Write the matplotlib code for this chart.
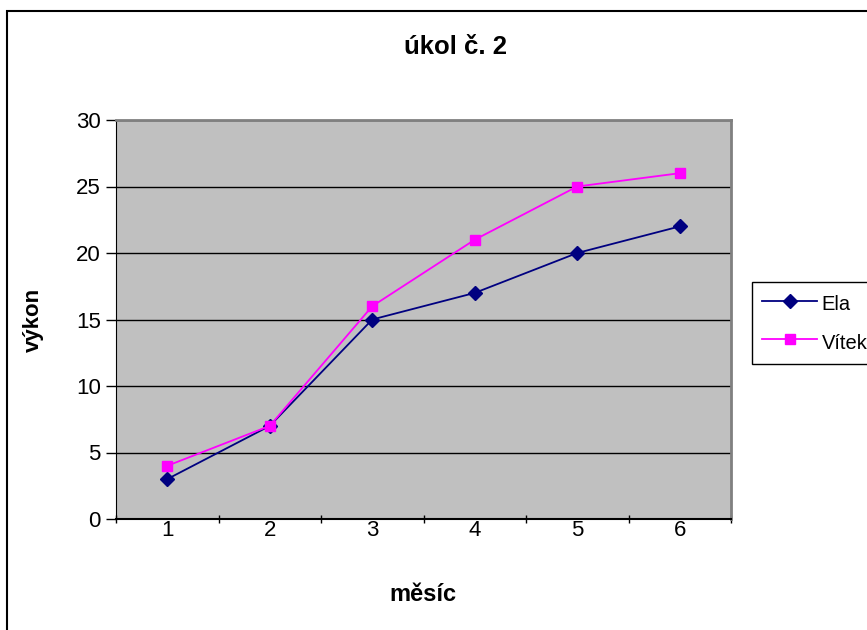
import matplotlib.pyplot as plt
from matplotlib.patches import Rectangle

plt.rcParams['font.family'] = ['Liberation Sans', 'DejaVu Sans']

months = [1, 2, 3, 4, 5, 6]
ela = [3, 7, 15, 17, 20, 22]
vitek = [4, 7, 16, 21, 25, 26]
yticks = [0, 5, 10, 15, 20, 25, 30]

fig = plt.figure(figsize=(8.67, 6.3), dpi=100)
ax = fig.add_axes([116 / 867, 1 - 519 / 630, 615 / 867, 399 / 630])
ax.set_facecolor('#c0c0c0')

# chart area border (runs off the right and bottom edge)
fig.add_artist(Rectangle((7 / 867, -0.05), 1.0, 1 - 11 / 630 + 0.05, transform=fig.transFigure,
                         fill=False, edgecolor='black', linewidth=1.5))

ax.plot(months, ela, color='#000080', marker='D', markersize=7, linewidth=1.3, label='Ela')
ax.plot(months, vitek, color='#ff00ff', marker='s', markersize=7, linewidth=1.3, label='Vítek')

ax.set_xlim(0.5, 6.5)
ax.set_ylim(0, 30)
ax.set_yticks(yticks)
ax.set_xticks(months)
ax.set_xticks([0.5 + i for i in range(7)], minor=True)
ax.tick_params(axis='x', which='major', length=0, pad=1, labelsize=16)
ax.tick_params(axis='x', which='minor', length=6, direction='inout', width=1)
ax.tick_params(axis='y', length=7, direction='out', width=1, labelsize=16, pad=4)
ax.grid(axis='y', color='black', linewidth=1)
ax.set_axisbelow(True)

for side in ['top', 'right']:
    ax.spines[side].set_color('#808080')
    ax.spines[side].set_linewidth(2)
ax.spines['left'].set_color('black')
ax.spines['bottom'].set_color('black')
ax.spines['bottom'].set_linewidth(1.5)

ax.set_xlabel('měsíc', fontsize=17, fontweight='bold')
ax.xaxis.set_label_coords((423 - 116) / 615, (519 - 583) / 399)
ax.set_ylabel('výkon', fontsize=16, fontweight='bold')
ax.yaxis.set_label_coords((44 - 116) / 615, 0.5)
fig.text(456 / 867, 1 - 47 / 630, 'úkol č. 2', ha='center', va='center', fontsize=18.5, fontweight='bold')

leg = fig.legend(loc='upper left', bbox_to_anchor=(752 / 867, 1 - 282 / 630), fontsize=14.5,
                 fancybox=False, framealpha=1, edgecolor='black', handlelength=2.75,
                 handleheight=1.39, labelspacing=0.75, borderpad=0.5, handletextpad=0.2,
                 borderaxespad=0)
leg.get_frame().set_linewidth(1)

plt.savefig('out.png', dpi=100)
